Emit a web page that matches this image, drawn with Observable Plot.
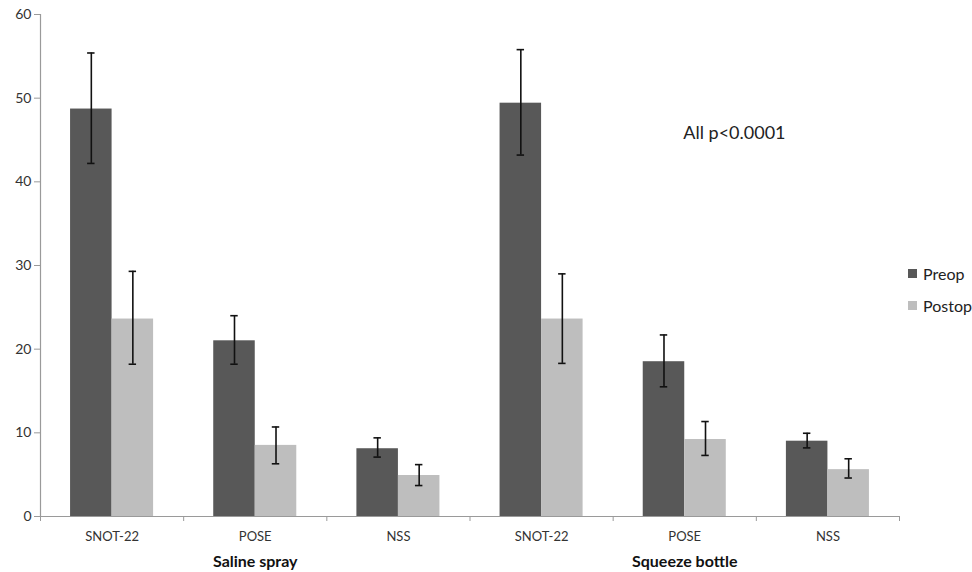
<!DOCTYPE html>
<html>
<head>
<meta charset="utf-8">
<script src="https://cdn.jsdelivr.net/npm/d3@7"></script>
<script src="https://cdn.jsdelivr.net/npm/@observablehq/plot@0.6"></script>
<style>
  html, body { margin: 0; padding: 0; background: #fff; overflow: hidden; }
  #wrap { position: relative; width: 972px; height: 572px; font-family: Lato, "Open Sans", sans-serif; overflow: hidden; }
  #legend { position: absolute; left: 908px; top: 264px; font-size: 16px; color: #222; }
  #legend .item { display: flex; align-items: center; height: 18px; margin-bottom: 14px; white-space: nowrap; }
  #legend .sw { width: 9px; height: 9px; margin-right: 6px; }
</style>
</head>
<body>
<div id="wrap"><div id="legend"></div></div>
<script>
// ---- data ----
const groups = ["Saline spray", "Squeeze bottle"];
const groupOf = ["Saline spray", "Saline spray", "Saline spray", "Squeeze bottle", "Squeeze bottle", "Squeeze bottle"];
const measures = ["SNOT-22", "POSE", "NSS", "SNOT-22", "POSE", "NSS"];
const series = ["Preop", "Postop"];
const seriesColors = ["#585858", "#bebebe"];
const preopMean = [48.7, 21.0, 8.1, 49.4, 18.5, 9.0];
const preopLow  = [42.2, 18.2, 7.1, 43.2, 15.5, 8.2];
const preopHigh = [55.4, 24.0, 9.4, 55.8, 21.7, 9.95];
const postopMean = [23.6, 8.5, 4.9, 23.6, 9.2, 5.6];
const postopLow  = [18.2, 6.3, 3.7, 18.3, 7.3, 4.6];
const postopHigh = [29.3, 10.7, 6.2, 29.0, 11.35, 6.9];
const yTicks = [0, 10, 20, 30, 40, 50, 60];
const annotation = [{x: 4.49, y: 45.8, label: "All p<0.0001"}];

// ---- layout of the bars inside each category slot ----
const slot = {Preop: [0.21, 0.5], Postop: [0.5, 0.79]};
const capHalf = 0.026;

const rows = measures.flatMap((m, i) => [
  {i, measure: m, series: "Preop", mean: preopMean[i], lo: preopLow[i], hi: preopHigh[i]},
  {i, measure: m, series: "Postop", mean: postopMean[i], lo: postopLow[i], hi: postopHigh[i]}
]).map(d => {
  const [a, b] = slot[d.series];
  return {...d, x1: d.i + a, x2: d.i + b, xc: d.i + (a + b) / 2};
});
const cats = measures.map((m, i) => ({i, m}));
const grp = groups.map(g => {
  const idx = groupOf.map((v, i) => v === g ? i : -1).filter(i => i >= 0);
  return {g, x: (d3.min(idx) + d3.max(idx) + 1) / 2};
});

const chart = Plot.plot({
  width: 972,
  height: 572,
  marginLeft: 40,
  marginRight: 73,
  marginTop: 14,
  marginBottom: 56,
  style: {fontFamily: "Lato, 'Open Sans', sans-serif", fontSize: "13px", background: "transparent"},
  x: {domain: [0, 6], axis: null},
  y: {domain: [0, 60], axis: null},
  color: {domain: series, range: seriesColors},
  marks: [
    Plot.rectY(rows, {x1: "x1", x2: "x2", y1: 0, y2: "mean", fill: "series"}),
    Plot.ruleX(rows, {x: "xc", y1: "lo", y2: "hi", stroke: "#111", strokeWidth: 1.6}),
    Plot.ruleY(rows, {y: "hi", x1: d => d.xc - capHalf, x2: d => d.xc + capHalf, stroke: "#111", strokeWidth: 1.6}),
    Plot.ruleY(rows, {y: "lo", x1: d => d.xc - capHalf, x2: d => d.xc + capHalf, stroke: "#111", strokeWidth: 1.6}),
    Plot.ruleX([0], {stroke: "#9a9a9a", strokeWidth: 1.2}),
    Plot.ruleY([0], {stroke: "#9a9a9a", strokeWidth: 1.2}),
    Plot.axisY(yTicks, {tickSize: 6, tickPadding: 3, stroke: "#9a9a9a", fill: "#333", fontSize: 14}),
    Plot.axisX(d3.range(7), {tickSize: 5, tickFormat: () => "", stroke: "#9a9a9a"}),
    Plot.text(cats, {x: d => d.i + 0.5, y: 0, text: "m", dy: 20, fontSize: 13, fill: "#333"}),
    Plot.text(grp, {x: "x", y: 0, text: "g", dy: 45, fontSize: 16, fontWeight: "bold", fill: "#111"}),
    Plot.text(annotation, {x: "x", y: "y", text: "label", textAnchor: "start", fontSize: 18, fill: "#222"})
  ]
});
document.getElementById("wrap").prepend(chart);

const legend = d3.select("#legend");
series.forEach((s, k) => {
  const it = legend.append("div").attr("class", "item");
  it.append("div").attr("class", "sw").style("background", seriesColors[k]);
  it.append("span").text(s);
});
</script>
</body>
</html>
